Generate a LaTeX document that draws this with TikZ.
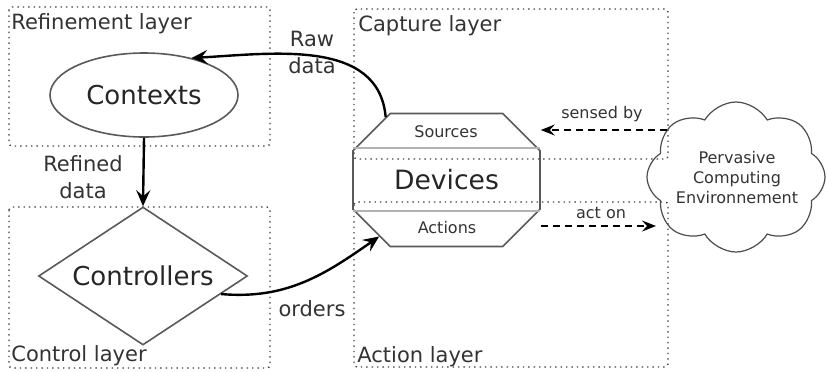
\documentclass[tikz,border=0pt]{standalone}
\usepackage{fontspec}
\setmainfont{DejaVu Sans}
\usetikzlibrary{shapes.geometric, shapes.misc, shapes.symbols, arrows.meta}

\begin{document}
\begin{tikzpicture}[x=0.5pt, y=-0.5pt]
            \tikzset{layer/.style={draw=gray!50!black, dotted, line width=0.7pt, rounded corners=1.5pt}}
            \tikzset{layername/.style={font=\fontsize{10.5}{12}\selectfont, text=black!80, inner sep=0pt, anchor=base west}}
            \tikzset{part/.style={draw=gray!70!black, line width=0.8pt, text=black!85, inner sep=0pt}}
            \tikzset{flow/.style={black, line width=1.2pt, -{Stealth[length=8pt, width=7pt, inset=3pt]}}}
            \tikzset{sense/.style={black, line width=0.9pt, dash pattern=on 3.5pt off 2.5pt, -{Stealth[length=7pt, width=5.5pt, inset=2.5pt]}}}
            \tikzset{flowtext/.style={font=\fontsize{10.5}{13.5}\selectfont, text=black!80, align=center, inner sep=0pt}}
            \tikzset{smalltext/.style={font=\fontsize{8}{10}\selectfont, text=black!80, align=center, inner sep=0pt}}
            \useasboundingbox (0, 0) rectangle (827, 371);
            % layers
            \draw[layer] (9, 7) rectangle (270, 146);
            \draw[layer] (9, 207) rectangle (270, 368);
            \draw[layer] (354, 9) rectangle (668, 159);
            \draw[layer] (354, 202) rectangle (668, 367);
            \node[layername] (refinement) at (11, 29) {Refinement layer};
            \node[layername] (control) at (11, 361) {Control layer};
            \node[layername] (capture) at (358, 31) {Capture layer};
            \node[layername] (action) at (357, 362) {Action layer};
            % components
            \node[part, ellipse, minimum width=94pt, minimum height=42pt, font=\fontsize{13}{15}\selectfont] (contexts) at (144, 95) {Contexts};
            \node[part, diamond, aspect=1.5, minimum width=104.5pt, minimum height=69pt, font=\fontsize{13}{15}\selectfont] (controllers) at (143, 276) {Controllers};
            \node[part, chamfered rectangle, chamfered rectangle xsep=13.5pt, chamfered rectangle ysep=13.5pt, minimum width=93.5pt, minimum height=66.5pt, font=\fontsize{13.3}{15}\selectfont] (devices) at (446.5, 180) {Devices};
            \draw[gray!60, line width=0.8pt] (353, 148) -- (540, 148);
            \draw[gray!60, line width=0.8pt] (353, 211) -- (540, 211);
            \node[smalltext] (sources) at (446, 132) {Sources};
            \node[smalltext] (actions) at (447, 228) {Actions};
            \node[part, cloud, cloud puffs=8, cloud puff arc=120, minimum width=89pt, minimum height=75pt, draw=gray!60!black, line width=0.6pt] (env) at (736, 177) {};
            \node[smalltext] (envtext) at (737, 178) {Pervasive\\Computing\\Environnement};
            % flows
            \draw[flow] (devices.134) to[out=95, in=3] (contexts.38);
            \node[flowtext] (raw) at (312, 52) {Raw\\data};
            \draw[flow] (contexts.south) -- (controllers.north);
            \node[flowtext] (refined) at (83, 177) {Refined\\data};
            \draw[flow] (controllers.-13) to[out=-5, in=215] (devices.220);
            \node[flowtext] (orders) at (312, 309) {orders};
            \coordinate (sensedfrom) at (667, 130);
            \coordinate (actto) at (656, 226);
            \draw[sense] (sensedfrom) -- (sensedfrom -| devices.east);
            \node[smalltext] (sensed) at (602, 114) {sensed by};
            \draw[sense] (actto -| devices.east) -- (actto);
            \node[smalltext] (acton) at (601, 213) {act on};
\end{tikzpicture}
\end{document}
